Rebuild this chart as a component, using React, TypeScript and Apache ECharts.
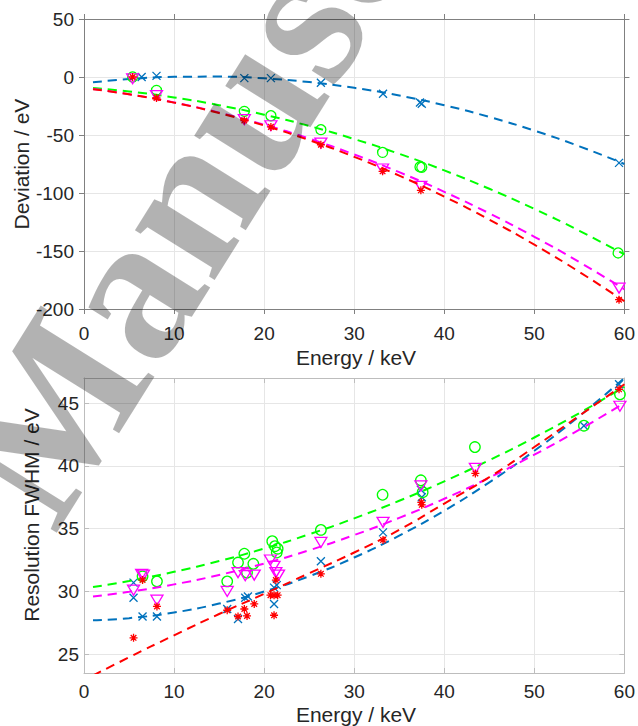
import React, { useEffect, useRef } from "react";
import * as echarts from "echarts";

// ---------- data ----------
const FIT_E = [1, 5, 10, 15, 20, 25, 30, 35, 40, 45, 50, 55, 60];

// Top panel: deviation / eV
const devBluePts = [[6.4, 0], [8.05, 1], [17.8, -1], [20.75, -1], [26.3, -5], [33.2, -14.4], [37.3, -22], [37.5, -23], [59.4, -74]];
const devGreenPts = [[5.4, 0], [8.05, -11.5], [17.8, -29.6], [20.75, -33.4], [26.3, -45.4], [33.15, -65], [37.3, -77.5], [37.5, -77.8], [59.3, -151.7]];
const devMagentaPts = [[5.4, -1.5], [8.05, -16], [17.8, -36.8], [20.75, -42], [26.3, -57], [33.15, -79.3], [37.4, -94.3], [59.4, -182]];
const devRedPts = [[5.4, 0], [8.05, -18], [17.8, -37.5], [20.75, -43], [26.3, -58.4], [33.15, -81.3], [37.4, -97.7], [59.4, -192]];

const devBlueFit = [-4.6, -1.82, 0.11, 0.33, -1.17, -4.39, -9.33, -15.98, -24.35, -34.44, -46.25, -59.76, -75.01];
const devGreenFit = [-9.5, -12.51, -17.65, -24.32, -32.51, -42.23, -53.48, -66.25, -80.55, -96.37, -113.73, -132.6, -153.01];
const devMagentaFit = [-10.3, -14.82, -21.94, -30.7, -41.09, -53.11, -66.77, -82.07, -98.99, -117.56, -137.76, -159.59, -183.05];
const devRedFit = [-10.5, -14.93, -22.08, -31.05, -41.82, -54.42, -68.82, -85.05, -103.08, -122.93, -144.58, -168.06, -193.34];

// Bottom panel: resolution FWHM / eV
const resBluePts = [[5.5, 30.7], [5.5, 29.5], [6.5, 28.0], [8.1, 28.0], [15.9, 28.6], [17.1, 27.8], [17.9, 29.5], [18.2, 29.6], [21.1, 30.3], [21.1, 29.0], [21.4, 30.5], [26.3, 32.4], [33.2, 34.7], [37.4, 38.1], [37.5, 37.5], [55.5, 43.2], [59.4, 46.5]];
const resGreenPts = [[6.5, 31.2], [8.1, 30.8], [15.9, 30.8], [17.1, 32.3], [17.8, 33.0], [18.1, 31.5], [18.8, 32.2], [20.9, 34.0], [21.2, 33.6], [21.5, 33.4], [21.4, 33.1], [26.3, 34.9], [33.15, 37.7], [37.4, 38.85], [37.6, 37.9], [43.4, 41.5], [55.5, 43.2], [59.5, 45.7]];
const resMagentaPts = [[5.5, 30.1], [6.4, 31.35], [6.6, 31.3], [8.1, 29.3], [15.9, 30.0], [17.1, 31.5], [17.9, 31.25], [18.9, 31.3], [20.7, 32.5], [21.1, 32.0], [21.3, 31.5], [21.6, 31.3], [26.3, 33.9], [33.2, 35.5], [37.4, 38.4], [43.45, 39.8], [59.5, 44.75]];
const resRedPts = [[5.5, 26.3], [6.5, 30.9], [8.1, 28.8], [15.9, 28.5], [17.1, 28.0], [17.8, 28.6], [18.1, 28.05], [18.9, 29.0], [20.7, 29.7], [21.1, 28.1], [21.1, 29.7], [21.3, 30.9], [21.5, 29.7], [26.3, 31.4], [33.2, 34.1], [37.45, 37.1], [37.5, 36.9], [43.45, 39.4], [59.4, 46.1]];

const resBlueFit = [27.7, 27.87, 28.32, 29.03, 29.99, 31.21, 32.7, 34.44, 36.43, 38.69, 41.2, 43.97, 47.0];
const resGreenFit = [30.35, 30.83, 31.56, 32.42, 33.41, 34.55, 35.82, 37.22, 38.77, 40.45, 42.26, 44.21, 46.3];
const resMagentaFit = [29.6, 29.97, 30.56, 31.31, 32.22, 33.28, 34.49, 35.86, 37.38, 39.06, 40.89, 42.88, 45.02];
const resRedFit = [23.3, 24.75, 26.5, 28.2, 29.8, 31.45, 33.1, 34.9, 37.0, 39.1, 41.5, 44.0, 46.5];

const X_TICKS = { min: 0, max: 60, interval: 10 };
const DEV_TICKS = { min: -200, max: 50, interval: 50 };
const RES_RANGE = { min: 23.5, max: 47 };

// ---------- styles ----------
const BLUE = "#0072BD";
const GREEN = "#00FF00";
const MAGENTA = "#FF00FF";
const RED = "#FF0000";
const FONT = '"Liberation Sans", Arial, sans-serif';
const TXT = "#262626";

const SYM_CROSS = "path://M0,0L10,10M10,0L0,10";
const SYM_STAR = "path://M5,0L5,10M0,5L10,5M1.5,1.5L8.5,8.5M8.5,1.5L1.5,8.5";
const SYM_TRI = "path://M0,0L10,0L5,8.66Z";

function fitData(vals: number[]) {
  return FIT_E.map((e, i) => [e, vals[i]]);
}

function scatter(name: string, data: number[][], color: string, symbol: string, size: number | number[], xi: number, yi: number, z: number) {
  return {
    name,
    type: "scatter",
    xAxisIndex: xi,
    yAxisIndex: yi,
    data,
    symbol,
    symbolSize: size,
    z,
    itemStyle: { color: "rgba(0,0,0,0)", borderColor: color, borderWidth: 1.3, opacity: 1 },
    emphasis: { disabled: true },
  };
}

function fitLine(name: string, vals: number[], color: string, xi: number, yi: number, z: number) {
  return {
    name,
    type: "line",
    xAxisIndex: xi,
    yAxisIndex: yi,
    data: fitData(vals),
    smooth: true,
    symbol: "none",
    showSymbol: false,
    clip: true,
    z,
    lineStyle: { color, width: 2, type: [9, 6] },
    emphasis: { disabled: true },
  };
}

export default function App() {
  const ref = useRef<HTMLDivElement>(null);

  useEffect(() => {
    if (!ref.current) return;
    const chart = echarts.init(ref.current, undefined, { renderer: "svg" });

    const topBox = "#808080";
    const botBox = "#bdbdbd";
    const gridLine = "#e6e6e6";

    const xMain = (gi: number, box: string, inside: boolean, margin: number) => ({
      type: "value",
      gridIndex: gi,
      position: "bottom",
      ...X_TICKS,
      axisLine: { show: true, onZero: false, lineStyle: { color: box, width: 1 } },
      axisTick: { show: true, inside, length: 5, lineStyle: { color: box } },
      axisLabel: { show: true, color: TXT, fontSize: 19, fontFamily: FONT, margin },
      splitLine: { show: true, lineStyle: { color: gridLine, width: 1 } },
    });
    const xTop = (gi: number, box: string, inside: boolean) => ({
      type: "value",
      gridIndex: gi,
      position: "top",
      ...X_TICKS,
      axisLine: { show: true, onZero: false, lineStyle: { color: box, width: 1 } },
      axisTick: { show: true, inside, length: 5, lineStyle: { color: box } },
      axisLabel: { show: false },
      splitLine: { show: false },
    });

    const wmAngle = (58 * Math.PI) / 180;

    const option: any = {
      animation: false,
      backgroundColor: "#ffffff",
      grid: [
        { left: 84, top: 19, width: 544, height: 290, containLabel: false },
        { left: 84, top: 378, width: 544, height: 295, containLabel: false },
      ],
      xAxis: [
        xMain(0, topBox, false, 15),
        xTop(0, topBox, false),
        xMain(1, botBox, true, 9),
        xTop(1, botBox, true),
      ],
      yAxis: [
        {
          type: "value",
          gridIndex: 0,
          position: "left",
          ...DEV_TICKS,
          axisLine: { show: true, onZero: false, lineStyle: { color: topBox } },
          axisTick: { show: true, inside: false, length: 5, lineStyle: { color: topBox } },
          axisLabel: { show: true, color: TXT, fontSize: 19, fontFamily: FONT, margin: 10 },
          splitLine: { show: true, lineStyle: { color: gridLine } },
        },
        {
          type: "value",
          gridIndex: 0,
          position: "right",
          ...DEV_TICKS,
          axisLine: { show: true, onZero: false, lineStyle: { color: topBox } },
          axisTick: { show: true, inside: false, length: 5, lineStyle: { color: topBox } },
          axisLabel: { show: false },
          splitLine: { show: false },
        },
        {
          type: "value",
          gridIndex: 1,
          position: "left",
          ...RES_RANGE,
          splitNumber: 5,
          axisLine: { show: true, onZero: false, lineStyle: { color: botBox } },
          axisTick: { show: true, inside: true, length: 5, lineStyle: { color: botBox } },
          axisLabel: {
            show: true,
            color: TXT,
            fontSize: 19,
            fontFamily: FONT,
            margin: 5,
            showMinLabel: false,
            showMaxLabel: false,
            formatter: (v: number) => (Math.abs(v % 5) < 1e-9 ? String(v) : ""),
          },
          splitLine: { show: true, lineStyle: { color: gridLine } },
        },
        {
          type: "value",
          gridIndex: 1,
          position: "right",
          ...RES_RANGE,
          splitNumber: 5,
          axisLine: { show: true, onZero: false, lineStyle: { color: botBox } },
          axisTick: { show: true, inside: true, length: 5, lineStyle: { color: botBox } },
          axisLabel: { show: false },
          splitLine: { show: false },
        },
      ],
      series: [
        scatter("dev blue", devBluePts, BLUE, SYM_CROSS, 8, 0, 0, 3),
        fitLine("dev blue fit", devBlueFit, BLUE, 0, 0, 3),
        scatter("dev green", devGreenPts, GREEN, "circle", 10, 0, 0, 4),
        fitLine("dev green fit", devGreenFit, GREEN, 0, 0, 4),
        scatter("dev magenta", devMagentaPts, MAGENTA, SYM_TRI, [12, 10], 0, 0, 5),
        fitLine("dev magenta fit", devMagentaFit, MAGENTA, 0, 0, 5),
        scatter("dev red", devRedPts, RED, SYM_STAR, 8, 0, 0, 6),
        fitLine("dev red fit", devRedFit, RED, 0, 0, 6),

        scatter("res blue", resBluePts, BLUE, SYM_CROSS, 8, 2, 2, 3),
        fitLine("res blue fit", resBlueFit, BLUE, 2, 2, 3),
        scatter("res green", resGreenPts, GREEN, "circle", 10.5, 2, 2, 4),
        fitLine("res green fit", resGreenFit, GREEN, 2, 2, 4),
        scatter("res magenta", resMagentaPts, MAGENTA, SYM_TRI, [12, 10], 2, 2, 5),
        fitLine("res magenta fit", resMagentaFit, MAGENTA, 2, 2, 5),
        scatter("res red", resRedPts, RED, SYM_STAR, 8, 2, 2, 6),
        fitLine("res red fit", resRedFit, RED, 2, 2, 6),
      ],
      graphic: [
        {
          type: "text",
          x: 21,
          y: 164,
          rotation: Math.PI / 2,
          z: 10,
          style: { text: "Deviation / eV", fontSize: 21, fontFamily: FONT, fill: TXT, align: "center", verticalAlign: "middle" },
        },
        {
          type: "text",
          x: 356,
          y: 357,
          z: 10,
          style: { text: "Energy / keV", fontSize: 21, fontFamily: FONT, fill: TXT, align: "center", verticalAlign: "middle" },
        },
        {
          type: "text",
          x: 31,
          y: 515,
          rotation: Math.PI / 2,
          z: 10,
          style: { text: "Resolution FWHM / eV", fontSize: 21, fontFamily: FONT, fill: TXT, align: "center", verticalAlign: "middle" },
        },
        {
          type: "text",
          x: 356,
          y: 714,
          z: 10,
          style: { text: "Energy / keV", fontSize: 21, fontFamily: FONT, fill: TXT, align: "center", verticalAlign: "middle" },
        },
        {
          type: "text",
          x: -4,
          y: 499,
          rotation: wmAngle,
          z: 100,
          silent: true,
          style: {
            text: "Manuscript",
            fontSize: 205,
            fontWeight: "bold",
            fontFamily: '"Liberation Serif", "DejaVu Serif", serif',
            fill: "rgba(0,0,0,0.3)",
            align: "left",
            verticalAlign: "middle",
          },
        },
      ],
    };

    chart.setOption(option);
    return () => chart.dispose();
  }, []);

  return (
    <div
      ref={ref}
      style={{ position: "fixed", left: 0, top: 0, width: 638, height: 726, background: "#fff" }}
    />
  );
}
